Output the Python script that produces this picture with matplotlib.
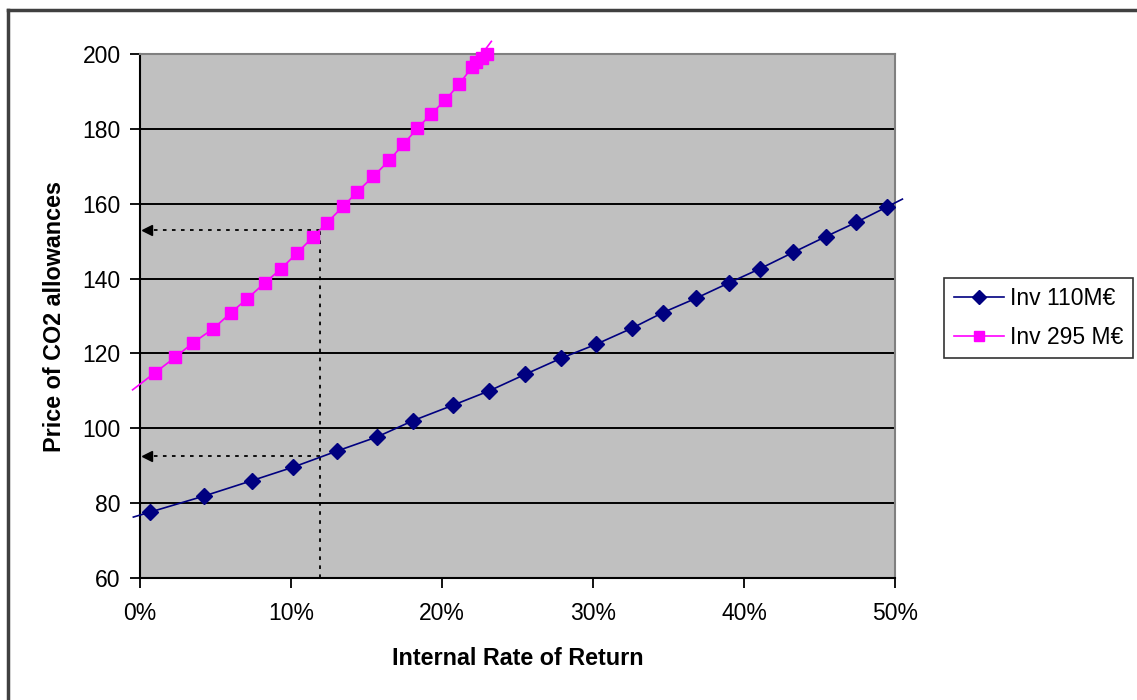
import matplotlib
matplotlib.use('Agg')
import matplotlib.pyplot as plt
from matplotlib.lines import Line2D
import numpy as np

plt.rcParams['font.family'] = ['Liberation Sans', 'DejaVu Sans']

# data (IRR in %, price in EUR/t)
irr_110 = [0.66, 4.24, 7.40, 10.13, 13.03, 15.70, 18.06, 20.75, 23.13, 25.50, 27.88,
           30.18, 32.56, 34.62, 36.80, 39.03, 41.04, 43.26, 45.41, 47.42, 49.49]
price_110 = [77.6, 81.9, 86.0, 89.6, 93.9, 97.7, 102.0, 106.2, 110.0, 114.4, 118.7,
             122.4, 126.7, 130.9, 134.7, 138.9, 142.6, 147.0, 151.2, 155.0, 159.2]

irr_295 = [1.01, 2.34, 3.53, 4.85, 6.03, 7.09, 8.28, 9.34, 10.42, 11.48, 12.38, 13.46,
           14.37, 15.45, 16.51, 17.44, 18.36, 19.29, 20.22, 21.15, 21.97, 22.25, 22.63, 23.0]
price_295 = [114.9, 119.0, 122.9, 126.6, 130.9, 134.6, 138.9, 142.6, 146.9, 151.2, 154.9,
             159.3, 163.1, 167.3, 171.6, 175.9, 180.1, 184.0, 187.7, 192.0, 196.4, 197.9,
             198.9, 200.0]

labels = ['Inv 110M€', 'Inv 295 M€']
target_irr = 11.9
target_prices = [153.1, 92.6]

xticks = [0, 10, 20, 30, 40, 50]
yticks = [60, 80, 100, 120, 140, 160, 180, 200]

navy = '#000080'
pink = '#FF00FF'

fig = plt.figure(figsize=(11.37, 7.0), dpi=100)
ax = fig.add_axes([140/1137, 1 - 578/700, 755/1137, 524/700])
ax.set_facecolor('#C0C0C0')

ax.set_xlim(0, 50)
ax.set_ylim(60, 200)


def extended(xs, ys, lo, hi):
    # trend line runs a little past the first and last points
    x = np.array(xs, float)
    y = np.array(ys, float)
    s0 = (y[1] - y[0]) / (x[1] - x[0])
    s1 = (y[-1] - y[-2]) / (x[-1] - x[-2])
    xe = np.concatenate([[x[0] - lo], x, [x[-1] + hi]])
    ye = np.concatenate([[y[0] - s0 * lo], y, [y[-1] + s1 * hi]])
    return xe, ye


for yv in yticks[1:-1]:
    ax.axhline(yv, color='black', lw=1.4, zorder=1)

xe, ye = extended(irr_110, price_110, 1.1, 1.0)
ax.plot(xe, ye, color=navy, lw=1.2, clip_on=False, zorder=3)
ax.plot(irr_110, price_110, 'D', color=navy, ms=8.3, clip_on=False, zorder=4)

xe, ye = extended(irr_295[:-3], price_295[:-3], 1.5, 1.3)
ax.plot(xe, ye, color=pink, lw=1.2, clip_on=False, zorder=3)
ax.plot(irr_295, price_295, 's', color=pink, ms=8, clip_on=False, zorder=4)

# reading lines
ax.plot([target_irr, target_irr], [60, target_prices[0]], color='black', lw=1.3,
        ls=(0, (2, 3)), zorder=2)
for p in target_prices:
    ax.plot([target_irr, 0.5], [p, p], color='black', lw=1.3, ls=(0, (2, 3)), zorder=2)
    ax.plot([0.45], [p], marker='<', color='black', ms=7, zorder=5)

ax.set_xticks(xticks)
ax.set_xticklabels([f'{v}%' for v in xticks])
ax.set_yticks(yticks)
ax.tick_params(axis='both', labelsize=16.5, length=7, width=1.3, direction='out',
               colors='black')
ax.tick_params(axis='y', pad=7)
ax.tick_params(axis='x', pad=10)

ax.spines['left'].set_color('black')
ax.spines['bottom'].set_color('black')
ax.spines['left'].set_linewidth(1.5)
ax.spines['bottom'].set_linewidth(1.5)
ax.spines['top'].set_color('#808080')
ax.spines['right'].set_color('#808080')
ax.spines['top'].set_linewidth(1.5)
ax.spines['right'].set_linewidth(1.5)

ax.set_xlabel('Internal Rate of Return', fontsize=16.8, fontweight='bold', labelpad=16)
ax.set_ylabel('Price of CO2 allowances', fontsize=16.8, fontweight='bold', labelpad=12)

handles = [Line2D([], [], color=navy, marker='D', ms=7, lw=1.2),
           Line2D([], [], color=pink, marker='s', ms=7.5, lw=1.2)]
leg = fig.legend(handles, labels, loc='center left', bbox_to_anchor=(944/1137, 1 - 318/700),
                 fontsize=16.5, frameon=True, fancybox=False, edgecolor='black',
                 handlelength=2.2, handletextpad=0.25, borderpad=0.42, labelspacing=0.68,
                 borderaxespad=0)
leg.get_frame().set_linewidth(1.2)

# chart area border (left and top only visible)
fig.add_artist(Line2D([8/1137, 8/1137], [0, 1 - 10/700], color='#404040', lw=2.5))
fig.add_artist(Line2D([8/1137, 1], [1 - 10/700, 1 - 10/700], color='#404040', lw=2.5))

fig.savefig('out.png', dpi=100)
